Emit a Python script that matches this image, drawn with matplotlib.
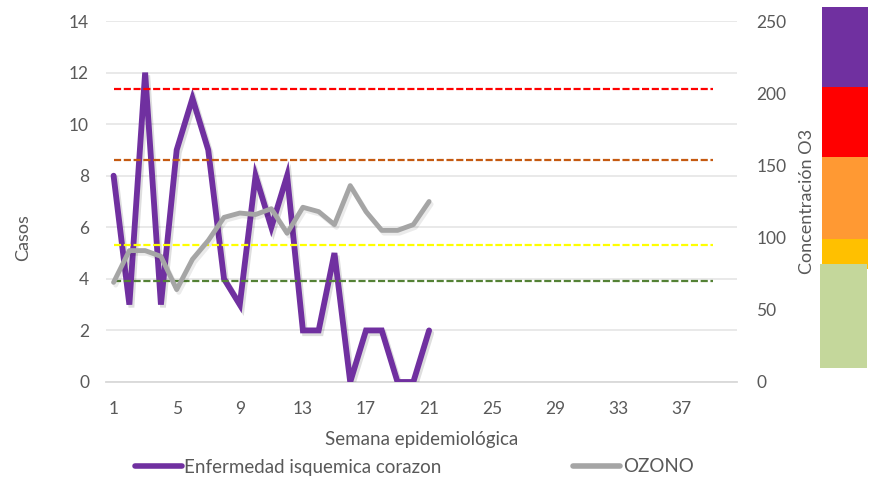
import matplotlib
matplotlib.use('Agg')
import matplotlib.pyplot as plt
import matplotlib.patheffects as pe
from matplotlib.lines import Line2D

plt.rcParams['font.family'] = ['Lato', 'DejaVu Sans']

# data
weeks = list(range(1, 22))
casos = [8, 3, 12, 3, 9, 11, 9, 4, 3, 8, 6, 8, 2, 2, 5, 0, 2, 2, 0, 0, 2]
ozono = [69, 91, 91, 87, 64, 85, 98, 114, 117, 116, 120, 103, 121, 118, 109,
         136, 118, 105, 105, 109, 125]
n_weeks = 40
xticks = list(range(1, 38, 4))

# umbrales de ozono (eje derecho)
umbral_vals = [70, 95, 154, 203]
umbral_cols = ['#548235', '#FFFF00', '#C55A11', '#FF0000']
umbral_end = 39

# barra de colores (escala de concentracion), de arriba hacia abajo
band_lo = [204, 156, 99, 78, 10]
band_hi = [260, 204, 156, 99, 82]
band_cols = ['#7030A0', '#FF0000', '#FF9933', '#FFC000', '#C4D79B']

GRAY_TXT = '#595959'
W, H = 885, 483

fig = plt.figure(figsize=(W / 100, H / 100), dpi=100)
x0, x1, y_top, y_bot = 105.7, 736.7, 21, 382
ax = fig.add_axes([x0 / W, 1 - y_bot / H, (x1 - x0) / W, (y_bot - y_top) / H])
ax2 = ax.twinx()

ax.plot(weeks, casos, color='#7030A0', lw=4.2, solid_capstyle='round',
        solid_joinstyle='miter', zorder=3,
        path_effects=[pe.SimpleLineShadow(offset=(1.5, -2), alpha=0.13, shadow_color='black'),
                      pe.Normal()])
ax2.hlines(umbral_vals, weeks[0], umbral_end, colors=umbral_cols, lw=1.6,
           linestyles=(0, (3.2, 1.2)), zorder=2)
ax2.plot(weeks, ozono, color='#A5A5A5', lw=3.5, solid_capstyle='round', zorder=3,
         path_effects=[pe.SimpleLineShadow(offset=(1.5, -2), alpha=0.08, shadow_color='black'),
                       pe.Normal()])

ax.set_xlim(0.5, n_weeks + 0.5)
ax.set_ylim(0, 14)
ax2.set_ylim(0, 250)
ax.set_yticks(range(0, 15, 2))
ax2.set_yticks(range(0, 251, 50))
ax.set_xticks(xticks)
ax.grid(axis='y', color='#E3E3E3', lw=1.1)
ax.set_axisbelow(True)

for a in (ax, ax2):
    for s in a.spines.values():
        s.set_visible(False)
    a.tick_params(length=0, labelsize=12.5, labelcolor=GRAY_TXT)
ax.spines['bottom'].set_visible(True)
ax.spines['bottom'].set_color('#D9D9D9')
ax.spines['bottom'].set_linewidth(1.3)
ax.tick_params(axis='y', pad=12)
ax.tick_params(axis='x', pad=14)
ax2.tick_params(axis='y', pad=14)

ax.set_ylabel('Casos', fontsize=13, color=GRAY_TXT)
ax.yaxis.set_label_coords(-0.118, 0.40)
ax2.set_ylabel('Concentración O3', fontsize=13, color=GRAY_TXT)
ax2.yaxis.set_label_coords(1.0985, 0.50)
ax.set_xlabel('Semana epidemiológica', fontsize=13.5, color=GRAY_TXT, labelpad=10)

# barra de colores a la derecha
bar = fig.add_axes([818 / W, 1 - y_bot / H, 52 / W, (y_bot - y_top) / H])
bar.set_ylim(0, 250)
bar.set_xlim(818, 870)
bar.axis('off')
band_x = [822, 822, 822, 822, 820]
band_w = [46, 46, 46, 46, 47]
bar.bar(band_x, [h - l for l, h in zip(band_lo, band_hi)], bottom=band_lo,
        width=band_w, align='edge', color=band_cols, clip_on=False)

handles = [Line2D([], [], color='#7030A0', lw=4, solid_capstyle='round'),
           Line2D([], [], color='#A5A5A5', lw=4, solid_capstyle='round')]
fig.legend(handles, ['Enfermedad isquemica corazon', 'OZONO'], loc='center',
           bbox_to_anchor=(414 / W, 1 - 467 / H), ncol=2, frameon=False,
           fontsize=13.5, labelcolor=GRAY_TXT, handlelength=2.5, handletextpad=0.15,
           columnspacing=7.0)

fig.savefig('out.png', dpi=100)
